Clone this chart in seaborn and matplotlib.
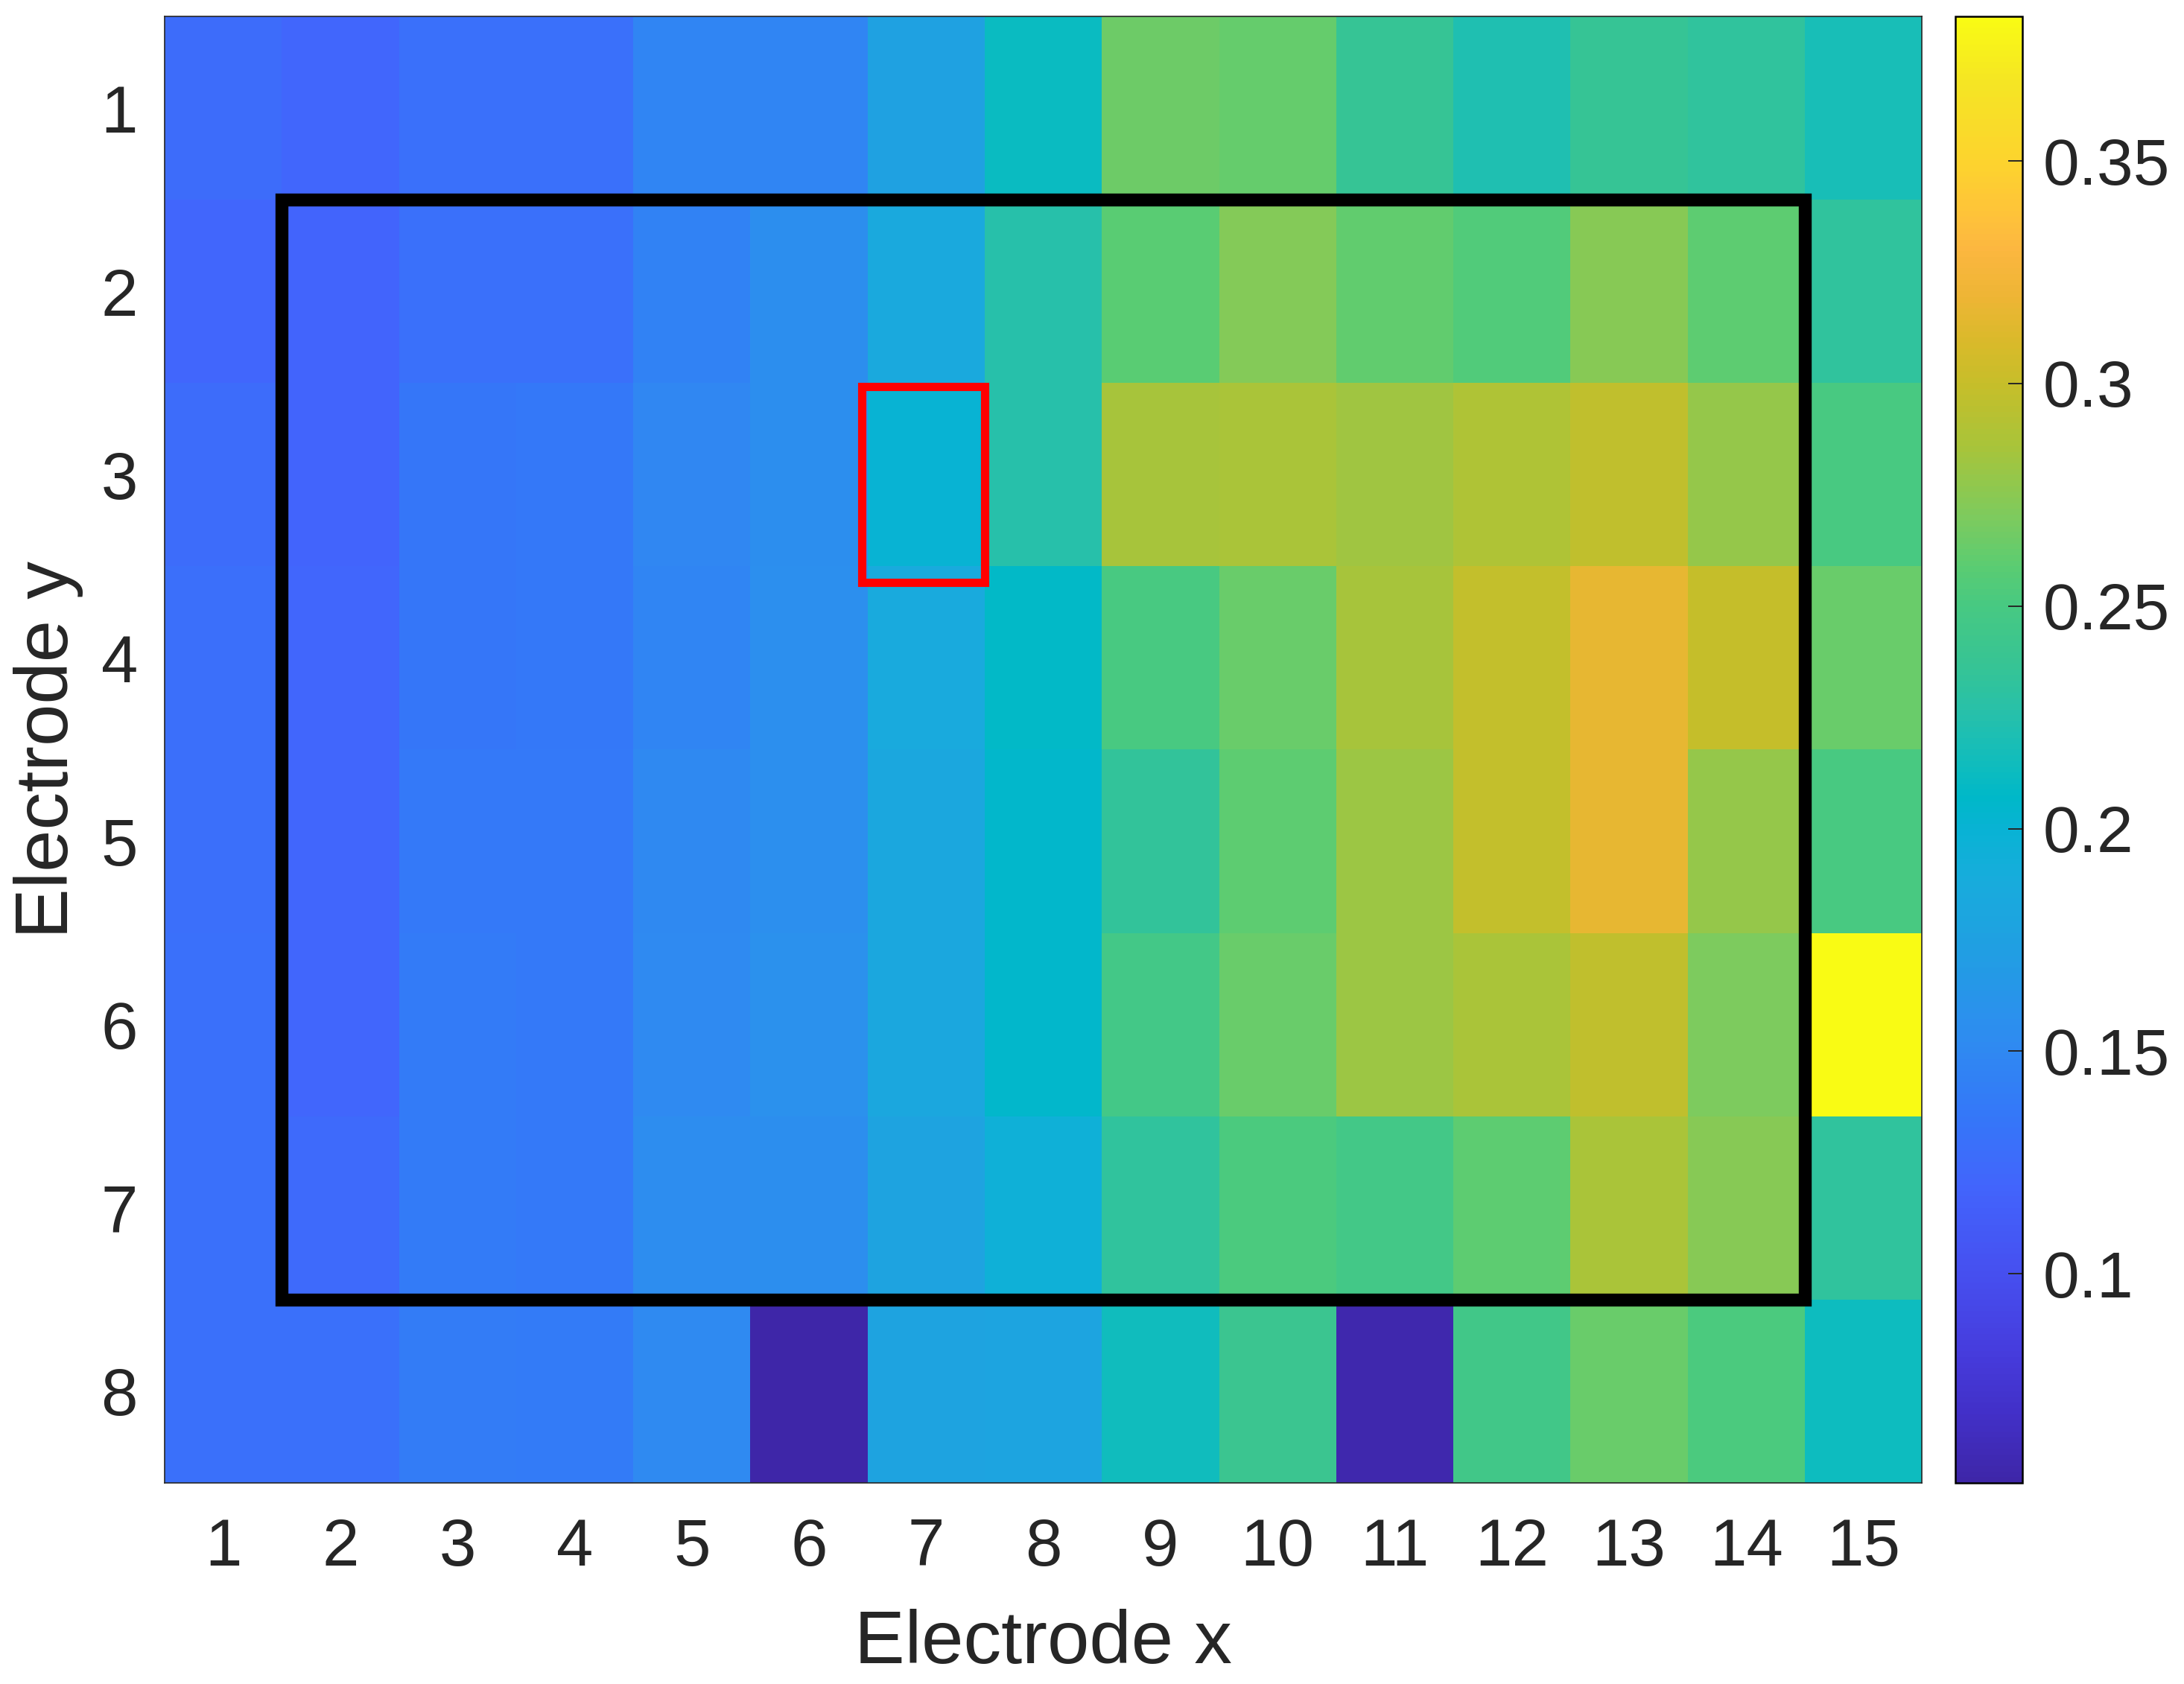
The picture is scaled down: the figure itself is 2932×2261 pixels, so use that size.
import numpy as np
import pandas as pd
import matplotlib
matplotlib.use("Agg")
import matplotlib.pyplot as plt
import seaborn as sns
from matplotlib.colors import LinearSegmentedColormap
from matplotlib.patches import Rectangle

# values, one list per electrode row (y = 1..8)
electrode_x = [str(i) for i in range(1, 16)]
electrode_y = [str(i) for i in range(1, 9)]

row1 = [0.126, 0.121, 0.130, 0.130, 0.147, 0.147, 0.176, 0.212, 0.265, 0.262, 0.237, 0.222, 0.236, 0.232, 0.218]
row2 = [0.121, 0.119, 0.130, 0.130, 0.145, 0.155, 0.185, 0.226, 0.258, 0.272, 0.261, 0.254, 0.274, 0.260, 0.233]
row3 = [0.126, 0.119, 0.135, 0.136, 0.149, 0.155, 0.201, 0.226, 0.285, 0.287, 0.283, 0.289, 0.297, 0.279, 0.250]
row4 = [0.128, 0.120, 0.135, 0.136, 0.148, 0.157, 0.186, 0.208, 0.251, 0.264, 0.285, 0.298, 0.316, 0.300, 0.264]
row5 = [0.128, 0.120, 0.137, 0.137, 0.150, 0.157, 0.182, 0.205, 0.234, 0.259, 0.282, 0.298, 0.316, 0.279, 0.250]
row6 = [0.129, 0.121, 0.138, 0.137, 0.152, 0.158, 0.182, 0.205, 0.247, 0.263, 0.281, 0.286, 0.297, 0.270, 0.3825]
row7 = [0.130, 0.124, 0.139, 0.137, 0.154, 0.155, 0.177, 0.195, 0.233, 0.252, 0.247, 0.259, 0.286, 0.274, 0.233]
row8 = [0.129, 0.130, 0.140, 0.138, 0.151, 0.053, 0.177, 0.179, 0.214, 0.240, 0.056, 0.245, 0.264, 0.252, 0.213]

cbar_ticks = [0.1, 0.15, 0.2, 0.25, 0.3, 0.35]
cbar_labels = ["0.1", "0.15", "0.2", "0.25", "0.3", "0.35"]

df = pd.DataFrame([row1, row2, row3, row4, row5, row6, row7, row8],
                  index=electrode_y, columns=electrode_x)

# parula-like map, sampled from the colour bar
parula = LinearSegmentedColormap.from_list("parula", [
    (0.000, "#3E26A8"), (0.046, "#4230C8"), (0.088, "#463CDD"),
    (0.143, "#4650F0"), (0.200, "#4264FC"), (0.252, "#3478F8"),
    (0.303, "#2E8CF0"), (0.364, "#209FE2"), (0.410, "#18ACDC"),
    (0.446, "#08B3D4"), (0.467, "#00B8C9"), (0.489, "#0FBCBE"),
    (0.522, "#25C0AC"), (0.557, "#36C495"), (0.598, "#47C982"),
    (0.625, "#5ACC72"), (0.659, "#7DCB5E"), (0.707, "#A8C43A"),
    (0.750, "#C6BE2A"), (0.777, "#D8BA2A"), (0.810, "#EEB535"),
    (0.844, "#FCB740"), (0.865, "#FEC23A"), (0.901, "#FDD32E"),
    (0.956, "#F5E524"), (1.000, "#F9FB14")], N=256)

plt.rcParams['font.family'] = ['Liberation Sans', 'DejaVu Sans']
txt = "#262626"

fig = plt.figure(figsize=(29.32, 22.61), dpi=100)
ax = fig.add_axes([0.0754, 0.1194, 0.8046, 0.8709])
cax = fig.add_axes([0.8953, 0.1194, 0.0307, 0.8709])

sns.heatmap(df, ax=ax, cbar_ax=cax, cmap=parula, vmin=0.053, vmax=0.3825,
            xticklabels=electrode_x, yticklabels=electrode_y,
            cbar_kws={"ticks": cbar_ticks})

for s in ax.spines.values():
    s.set_visible(True)
    s.set_linewidth(1.2)
    s.set_color(txt)

ax.tick_params(axis='both', length=0, labelsize=64, colors=txt)
ax.tick_params(axis='x', pad=33)
ax.tick_params(axis='y', pad=26)
ax.set_yticklabels(electrode_y, rotation=0, va='center_baseline')
ax.set_xticklabels(electrode_x, rotation=0)
ax.set_xlabel("Electrode x", fontsize=73, color=txt, labelpad=28)
ax.set_ylabel("Electrode y", fontsize=73, color=txt, labelpad=17)

# outlined regions (heatmap cells span i..i+1)
ax.add_patch(Rectangle((1, 1), 13, 6, fill=False, edgecolor='black', linewidth=12.5))
ax.add_patch(Rectangle((5.95, 2.02), 1.05, 1.07, fill=False, edgecolor='#FF0000', linewidth=8))

cbar = ax.collections[0].colorbar
cbar.outline.set_linewidth(1.8)
cbar.outline.set_edgecolor('black')
cbar.set_ticks(cbar_ticks, labels=cbar_labels)
cax.tick_params(direction='in', length=14, width=1.4, labelsize=63, colors=txt, pad=20)

plt.savefig("out.png", dpi=100)
